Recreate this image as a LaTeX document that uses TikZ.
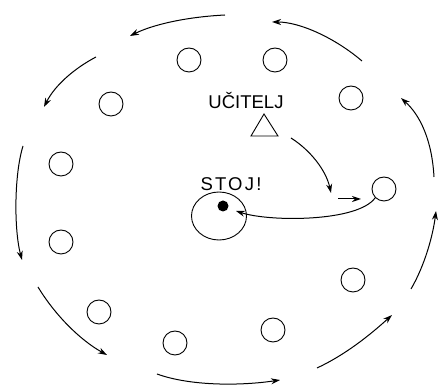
\documentclass[tikz,border=0pt]{standalone}
\usepackage{fontspec}
\setmainfont{Liberation Sans}
\usetikzlibrary{arrows.meta,shapes.geometric}
\begin{document}
\begin{tikzpicture}[x=1pt,y=-1pt,
  pupil/.style={draw,circle,minimum size=24pt,inner sep=0pt,line width=0.9pt},
  move/.style={line width=1pt,-{Stealth[length=9pt,width=6pt]}},
  lbl/.style={font=\fontsize{18.5}{20}\selectfont,inner sep=0pt,anchor=base}]
\useasboundingbox (0,0) rectangle (440,387);
% pupils
\node[pupil] (p1) at (189,60) {};
\node[pupil] (p2) at (111,104) {};
\node[pupil] (p3) at (61,164) {};
\node[pupil] (p4) at (275,60) {};
\node[pupil] (p5) at (351,98) {};
\node[pupil] (p6) at (384,189) {};
\node[pupil] (p7) at (61,242) {};
\node[pupil] (p8) at (99,312) {};
\node[pupil] (p9) at (175,343) {};
\node[pupil] (p10) at (353,280) {};
\node[pupil] (p11) at (273,330) {};
% stopped pupil
\node[draw,ellipse,minimum width=55pt,minimum height=48pt,inner sep=0pt,line width=0.9pt] (big) at (219,216) {};
\node[fill,circle,minimum size=11pt,inner sep=0pt] (dot) at (223,206) {};
\node[lbl] (stoj) at (231,191) {\addfontfeature{LetterSpace=12}STOJ!};
% teacher
\node[lbl] (uc) at (246,108.5) {UČITELJ};
\draw[line width=0.9pt] (264,114) -- (278,136) -- (251,136) -- cycle;
% outer circle of arrows
\coordinate (a1s) at (225,15);  \coordinate (a1e) at (130,36);
\coordinate (a2s) at (362,61);  \coordinate (a2e) at (272,22);
\coordinate (a3s) at (96,57);   \coordinate (a3e) at (44,107);
\coordinate (a4s) at (23,146);  \coordinate (a4e) at (22,260);
\coordinate (a5s) at (38,287);  \coordinate (a5e) at (107,355);
\coordinate (a6s) at (157,374); \coordinate (a6e) at (280,380);
\coordinate (a7s) at (317,368); \coordinate (a7e) at (392,315);
\coordinate (a8s) at (411,289); \coordinate (a8e) at (436,211);
\coordinate (a9s) at (434,177); \coordinate (a9e) at (401,98);
\draw[move] (a1s) .. controls (185,17) and (152,25) .. (a1e);
\draw[move] (a2s) .. controls (335,38) and (300,22) .. (a2e);
\draw[move] (a3s) .. controls (75,68) and (55,85) .. (a3e);
\draw[move] (a4s) .. controls (14,175) and (14,230) .. (a4e);
\draw[move] (a5s) .. controls (55,315) and (80,340) .. (a5e);
\draw[move] (a6s) .. controls (190,386) and (240,386) .. (a6e);
\draw[move] (a7s) .. controls (345,355) and (370,335) .. (a7e);
\draw[move] (a8s) .. controls (425,265) and (433,235) .. (a8e);
\draw[move] (a9s) .. controls (432,140) and (420,115) .. (a9e);
% teacher's move
\coordinate (b1s) at (291,138); \coordinate (b1e) at (331,193);
\draw[move] (b1s) .. controls (310,150) and (326,170) .. (b1e);
\coordinate (b2s) at (338,199); \coordinate (b2e) at (361,199);
\draw[move] (b2s) -- (b2e);
\coordinate (tip) at (236,211);
\draw[move] (p6.south west) .. controls (358,222) and (270,222) .. (tip);
\end{tikzpicture}
\end{document}
